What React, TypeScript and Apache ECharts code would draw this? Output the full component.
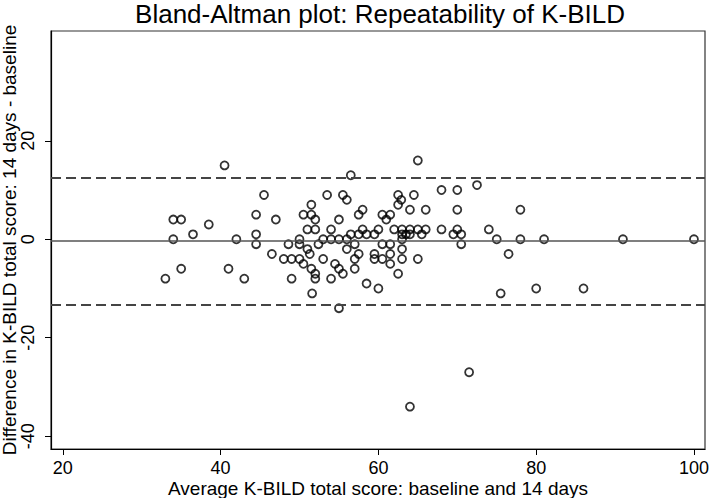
import React, { useEffect, useRef } from "react";
import * as echarts from "echarts";

const titleText = "Bland-Altman plot: Repeatability of K-BILD";
const xAxisName = "Average K-BILD total score: baseline and 14 days";
const yAxisName = "Difference in K-BILD total score: 14 days - baseline";

const xTicks = [20, 40, 60, 80, 100];
const yTicks = [-40, -20, 0, 20];

const meanDiff = -0.35;
const upperLimit = 12.5;
const lowerLimit = -13.2;

const avgScores = [
  33, 34, 35, 34, 35, 36.5, 38.5, 40.5, 41, 42, 43, 44.5, 44.5, 44.5, 45.5, 46.5, 47, 48,
  48.6, 49, 49, 50, 50, 50, 50.5, 50.5, 51, 51, 51.3, 51.5, 51.5, 51.5, 51.6, 52, 52, 52.4, 52, 52,
  53, 53, 53.5, 54, 54, 54, 54.5, 55, 55, 55, 55, 55.5, 55.5, 56, 56, 56, 56.5, 56.5,
  57, 57, 57.5, 57.5, 57.5, 57, 58, 58, 58.5, 58.5, 59.5, 59.5, 59.5, 60, 60, 60.5, 60.5, 60.5,
  61, 61.5, 61.5, 61.5, 61.5, 62, 62.5, 62.5, 62.5, 62.9, 63, 63, 63, 63, 63, 63.5, 64, 64, 64, 64,
  64.5, 65, 65, 65, 65.5, 66, 66, 68, 68, 69.5, 70, 70, 70, 70.5, 70.5, 71.5, 72.5, 74, 75, 75.5,
  76.5, 78, 78, 80, 81, 86, 91, 100,
];
const diffScores = [
  -8, 4, 4, 0, -6, 1, 3, 15, -6, 0, -8, 5, 1, -1, 9, -3, 4, -4,
  -1, -4, -8, 0, -1, -4, -5, 5, 2, -2, -3, 7, 5, -6, -11, 4, 2, -1, -7, -8,
  0, -4, 9, 2, 0, -8, -5, 4, 0, -6, -14, -7, 9, 8, 0, -2, 13, 1,
  -1, -6, 5, 1, -3, -4, 6, 2, 1, -9, 1, -3, -4, 2, -10, -1, 5, -4,
  4, 5, -1, -3, -5, 2, 9, 7, -7, 8, 2, 1, 0, -2, -4, 1, 6, 2, 1, -34,
  9, 16, 2, -4, 1, 6, 2, 10, 2, 1, 10, 6, 2, 1, -1, -27, 11, 2, 0, -11,
  -3, 6, 0, -10, 0, -10, 0, 0,
];

const FONT = "Liberation Sans, Arial, Helvetica, sans-serif";

export default function App() {
  const ref = useRef<HTMLDivElement>(null);
  useEffect(() => {
    document.body.style.margin = "0";
    if (!ref.current) return;
    const chart = echarts.init(ref.current, null, { renderer: "svg" });
    const points = avgScores.map((x, i) => [x, diffScores[i]]);
    chart.setOption({
      animation: false,
      backgroundColor: "#ffffff",
      textStyle: { fontFamily: FONT },
      grid: {
        left: 51,
        right: 4,
        top: 31,
        bottom: 49,
        show: true,
        borderColor: "#333",
        borderWidth: 1.2,
        containLabel: false,
        outerBoundsMode: "none",
      },
      graphic: [
        {
          type: "text",
          x: 380,
          y: 14,
          style: {
            text: titleText,
            fontFamily: FONT,
            fontSize: 26,
            fill: "#000",
            textAlign: "center",
            textVerticalAlign: "middle",
          },
        },
      ],
      xAxis: {
        type: "value",
        min: 18.5,
        max: 101.4,
        name: xAxisName,
        nameLocation: "middle",
        nameGap: 30,
        nameMoveOverlap: false,
        nameTextStyle: { fontSize: 19, lineHeight: 19, color: "#000", fontFamily: FONT },
        axisLine: { show: true, onZero: false, lineStyle: { color: "#000", width: 1.2 } },
        axisTick: { show: true, length: 6, customValues: xTicks, lineStyle: { color: "#000", width: 1 } },
        axisLabel: { customValues: xTicks, fontSize: 18, lineHeight: 16, color: "#000", margin: 11, fontFamily: FONT },
        splitLine: { show: false },
      },
      yAxis: {
        type: "value",
        min: -42.6,
        max: 42.3,
        name: yAxisName,
        nameLocation: "middle",
        nameRotate: 90,
        nameGap: 32,
        nameMoveOverlap: false,
        nameTextStyle: { fontSize: 19, lineHeight: 19, color: "#000", fontFamily: FONT },
        axisLine: { show: true, onZero: false, lineStyle: { color: "#000", width: 1.2 } },
        axisTick: { show: true, length: 6, customValues: yTicks, lineStyle: { color: "#000", width: 1 } },
        axisLabel: {
          customValues: yTicks,
          rotate: 90,
          align: "center",
          verticalAlign: "bottom",
          fontSize: 18,
          lineHeight: 18,
          color: "#000",
          margin: 14,
          fontFamily: FONT,
        },
        splitLine: { show: false },
      },
      series: [
        {
          type: "scatter",
          data: points,
          symbol: "circle",
          symbolSize: 8,
          itemStyle: { color: "rgba(255,255,255,0)", borderColor: "#000", borderWidth: 1.8 },
          z: 3,
          markLine: {
            silent: true,
            symbol: "none",
            label: { show: false },
            data: [
              { yAxis: meanDiff, lineStyle: { type: "solid", color: "#555", width: 1.6 } },
              { yAxis: upperLimit, lineStyle: { type: [10, 5], color: "#444", width: 1.8 } },
              { yAxis: lowerLimit, lineStyle: { type: [10, 5], color: "#444", width: 1.8 } },
            ],
          },
        },
      ],
    });
    return () => chart.dispose();
  }, []);
  return <div ref={ref} style={{ position: "absolute", left: 0, top: 0, width: 709, height: 498 }} />;
}
